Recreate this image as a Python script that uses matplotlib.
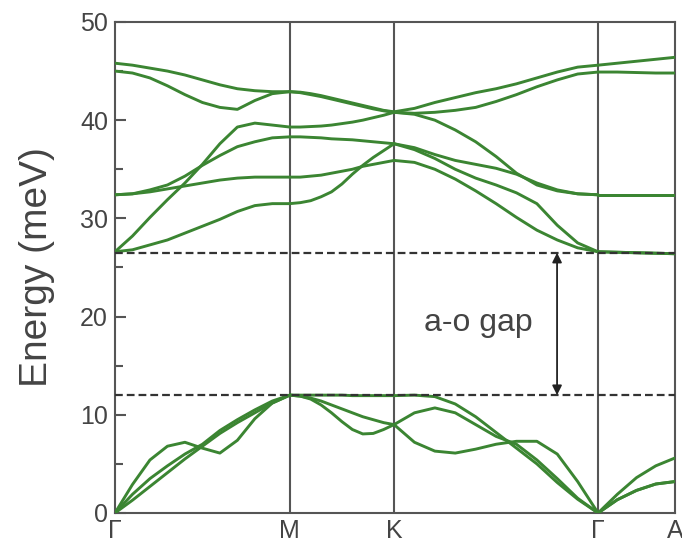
import matplotlib.pyplot as plt

plt.rcParams["font.family"] = ["Liberation Sans", "DejaVu Sans"]

# high-symmetry points along the path
kpt_labels = ["Γ", "M", "K", "Γ", "A"]
kpt_pos = [0.0, 0.857, 1.368, 2.368, 2.745]

# sample positions inside each segment (fraction of the segment length)
frac11 = [0.0, 0.1, 0.2, 0.3, 0.4, 0.5, 0.6, 0.7, 0.8, 0.9, 1.0]
frac5 = [0.0, 0.25, 0.5, 0.75, 1.0]

# phonon energies (meV), one list per branch
gm_bands = [
    [45.8, 45.6, 45.3, 45.0, 44.6, 44.1, 43.6, 43.2, 43.0, 42.9, 42.9],
    [45.0, 44.8, 44.3, 43.5, 42.6, 41.8, 41.3, 41.1, 42.0, 42.7, 42.9],
    [26.6, 28.2, 30.1, 31.9, 33.6, 35.5, 37.6, 39.3, 39.7, 39.5, 39.3],
    [32.4, 32.5, 32.9, 33.4, 34.3, 35.4, 36.4, 37.3, 37.8, 38.2, 38.3],
    [32.4, 32.5, 32.7, 33.0, 33.3, 33.6, 33.9, 34.1, 34.2, 34.2, 34.2],
    [26.6, 26.8, 27.3, 27.8, 28.5, 29.2, 29.9, 30.7, 31.3, 31.5, 31.5],
    [0.0, 2.9, 5.4, 6.8, 7.2, 6.6, 6.1, 7.4, 9.6, 11.2, 12.0],
    [0.0, 1.9, 3.5, 4.8, 6.0, 7.0, 8.4, 9.5, 10.5, 11.4, 12.0],
    [0.0, 1.3, 2.7, 4.1, 5.5, 6.8, 8.1, 9.2, 10.2, 11.2, 12.0],
]
mk_bands = [
    [42.9, 42.85, 42.7, 42.5, 42.25, 42.0, 41.75, 41.5, 41.25, 41.0, 40.85],
    [42.9, 42.8, 42.6, 42.4, 42.15, 41.9, 41.65, 41.4, 41.15, 40.95, 40.8],
    [39.3, 39.3, 39.35, 39.4, 39.5, 39.65, 39.8, 40.0, 40.25, 40.5, 40.8],
    [38.3, 38.3, 38.25, 38.2, 38.1, 38.05, 38.0, 37.9, 37.8, 37.7, 37.6],
    [34.2, 34.2, 34.3, 34.4, 34.6, 34.8, 35.0, 35.3, 35.5, 35.7, 35.9],
    [31.5, 31.6, 31.8, 32.2, 32.7, 33.5, 34.5, 35.4, 36.2, 36.9, 37.6],
    [12.0, 12.0, 12.0, 12.0, 12.0, 12.0, 11.95, 11.95, 11.95, 11.95, 11.95],
    [12.0, 11.9, 11.7, 11.4, 11.0, 10.6, 10.2, 9.8, 9.5, 9.2, 9.0],
    [12.0, 11.9, 11.6, 11.0, 10.2, 9.3, 8.5, 8.05, 8.1, 8.5, 9.0],
]
kg_bands = [
    [40.85, 41.2, 41.8, 42.3, 42.8, 43.2, 43.7, 44.3, 44.9, 45.4, 45.6],
    [40.8, 40.7, 40.8, 41.0, 41.3, 41.9, 42.6, 43.4, 44.1, 44.7, 44.9],
    [40.8, 40.6, 40.0, 39.0, 37.8, 36.3, 34.6, 33.4, 32.8, 32.5, 32.4],
    [37.6, 37.2, 36.5, 35.9, 35.5, 35.1, 34.5, 33.6, 32.9, 32.5, 32.4],
    [37.6, 37.0, 36.1, 35.0, 34.1, 33.4, 32.6, 31.5, 29.3, 27.5, 26.6],
    [35.9, 35.7, 35.0, 34.0, 32.8, 31.5, 30.1, 28.8, 27.8, 27.0, 26.6],
    [11.95, 12.0, 11.85, 11.1, 9.8, 8.2, 6.6, 5.0, 3.1, 1.4, 0.0],
    [9.0, 10.2, 10.7, 10.2, 9.0, 7.8, 7.0, 5.4, 3.5, 1.5, 0.0],
    [9.0, 7.2, 6.3, 6.1, 6.5, 7.0, 7.3, 7.3, 6.0, 3.2, 0.0],
]
ga_bands = [
    [45.6, 45.8, 46.0, 46.2, 46.4],
    [44.9, 44.9, 44.85, 44.8, 44.8],
    [32.4, 32.4, 32.4, 32.4, 32.4],
    [32.4, 32.4, 32.4, 32.4, 32.4],
    [26.6, 26.55, 26.5, 26.45, 26.4],
    [26.6, 26.55, 26.5, 26.45, 26.4],
    [0.0, 1.9, 3.6, 4.8, 5.6],
    [0.0, 1.35, 2.3, 2.95, 3.2],
    [0.0, 1.35, 2.3, 2.95, 3.2],
]

segments = [
    (0, frac11, gm_bands),
    (1, frac11, mk_bands),
    (2, frac11, kg_bands),
    (3, frac5, ga_bands),
]

gap_top = 26.5
gap_bottom = 12.0
arrow_k = 2.167
gap_text_pos = (1.78, 19.3)

fig = plt.figure(figsize=(6.82, 5.49), dpi=100)
ax = fig.add_axes([0.1686, 0.0656, 0.8211, 0.8944])

green = "#3b8532"
grey = "#555555"

for i, fr, bands in segments:
    k0, k1 = kpt_pos[i], kpt_pos[i + 1]
    ks = [k0 + f * (k1 - k0) for f in fr]
    for b in bands:
        ax.plot(ks, b, color=green, lw=2.1, solid_capstyle="round",
                solid_joinstyle="round", zorder=3)

# separators at the inner high-symmetry points
for k in kpt_pos[1:-1]:
    ax.axvline(k, color=grey, lw=1.5, zorder=2)

# gap edges
for e in (gap_top, gap_bottom):
    ax.axhline(e, color="#333333", lw=1.6, dashes=(3.5, 1.8), zorder=4)

ax.annotate("", xy=(arrow_k, gap_bottom), xytext=(arrow_k, gap_top),
            arrowprops=dict(arrowstyle="<|-|>", color="#222222", lw=1.3,
                            mutation_scale=14, shrinkA=0, shrinkB=0),
            zorder=5)
ax.text(gap_text_pos[0], gap_text_pos[1], "a-o gap", fontsize=23,
        color="#444444", ha="center", va="center")

ax.set_xlim(kpt_pos[0], kpt_pos[-1])
ax.set_ylim(0, 50)
ax.set_xticks(kpt_pos)
ax.set_xticklabels(kpt_labels)
ax.set_yticks([0, 10, 20, 30, 40, 50])
ax.set_yticks([5, 15, 25, 35, 45], minor=True)
ax.tick_params(axis="x", length=0, pad=4, labelsize=18, labelcolor="#444444")
ax.tick_params(axis="y", which="both", direction="in", color=grey, width=1.5,
               labelsize=18, labelcolor="#444444", pad=5)
ax.tick_params(axis="y", which="major", length=8)
ax.tick_params(axis="y", which="minor", length=6)
for s in ax.spines.values():
    s.set_color(grey)
    s.set_linewidth(1.5)

ax.set_ylabel("Energy (meV)", fontsize=28, color="#444444", labelpad=18)

fig.savefig("out.png", dpi=100)
